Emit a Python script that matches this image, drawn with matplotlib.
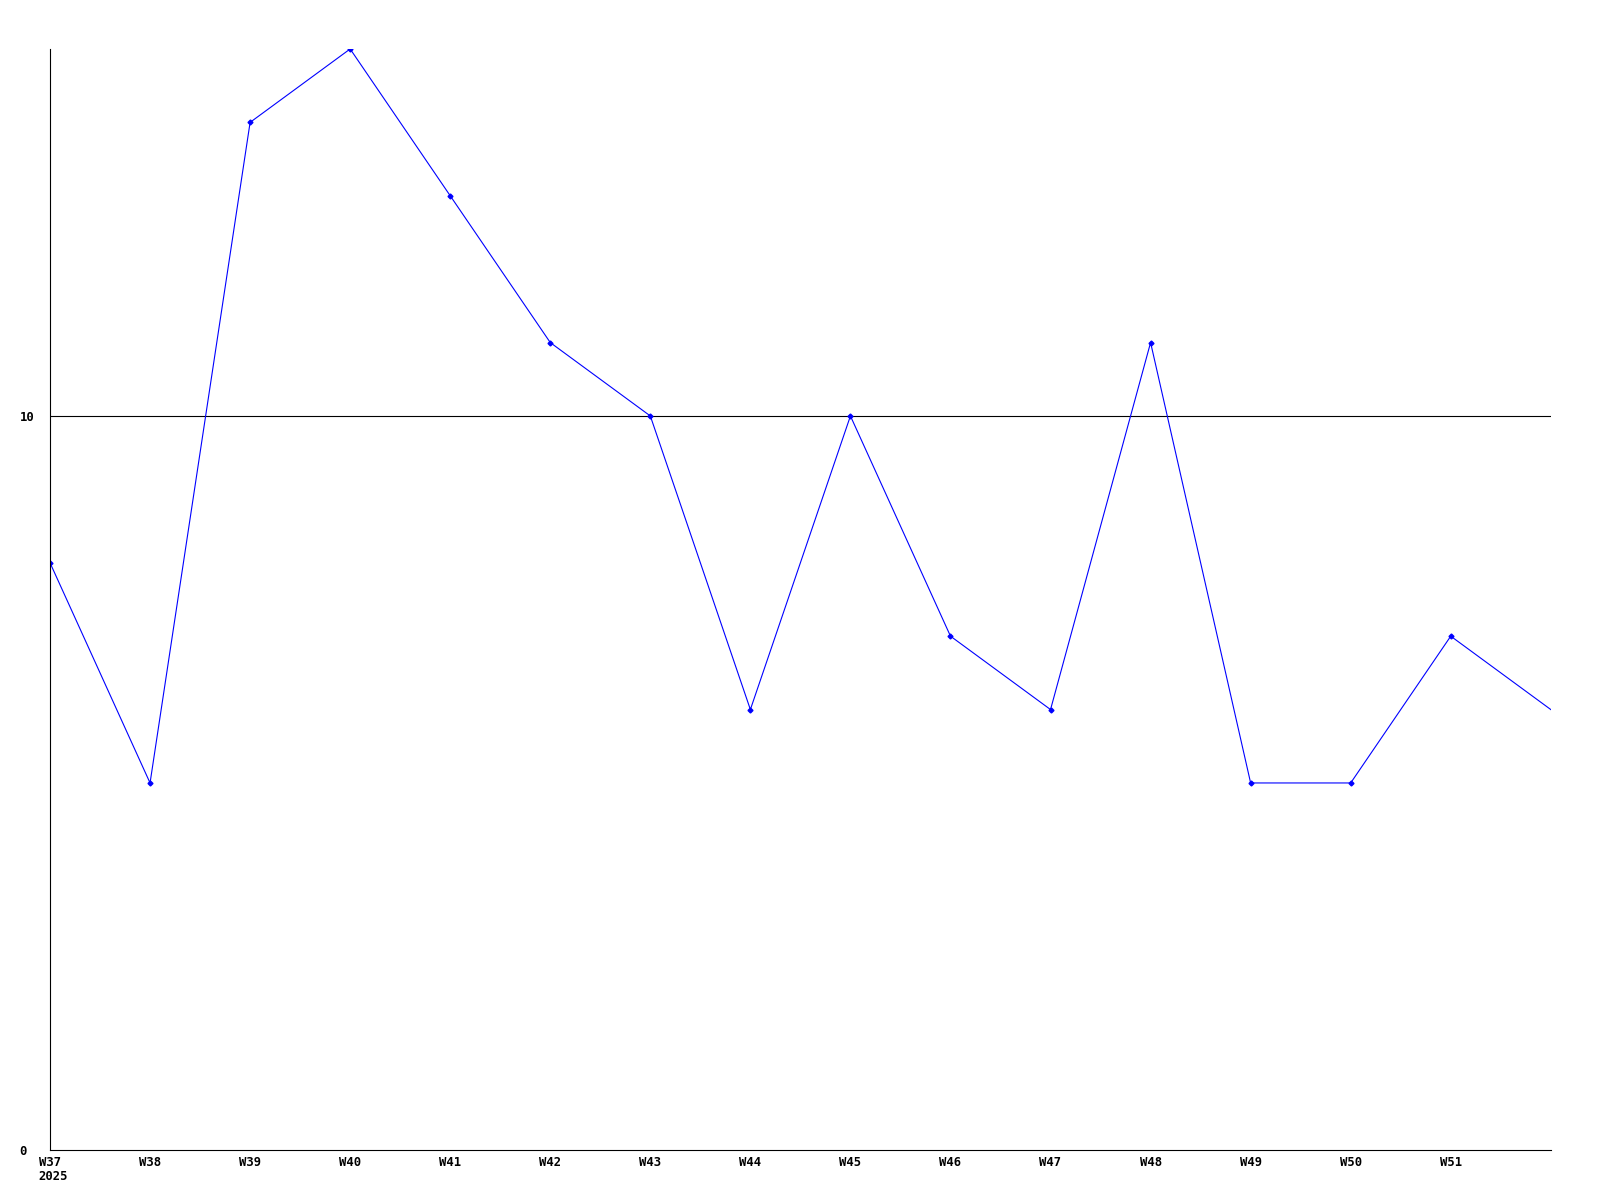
import matplotlib
matplotlib.use('Agg')
import matplotlib.pyplot as plt

# weekly counts, last point (W52) runs to the right edge without a label
weeks = ['W37', 'W38', 'W39', 'W40', 'W41', 'W42', 'W43', 'W44',
         'W45', 'W46', 'W47', 'W48', 'W49', 'W50', 'W51', 'W52']
values = [8, 5, 14, 15, 13, 11, 10, 6, 10, 7, 6, 11, 5, 5, 7, 6]
tick_labels = weeks[:-1]
year_label = '2025'
y_ticks = [0, 10]

fig = plt.figure(figsize=(16, 12), dpi=100)
ax = fig.add_axes([0.03125, 0.0417, 0.938, 0.9175])

x = list(range(len(values)))
ax.plot(x, values, color='#0000ff', lw=0.8, marker='D', ms=2.5,
        markevery=list(range(len(values) - 1)))

ax.set_xlim(0, len(values) - 1)
ax.set_ylim(0, 15)

ax.set_xticks(x[:-1])
ax.set_xticklabels(tick_labels)
ax.set_yticks(y_ticks)
ax.set_yticklabels([str(v) for v in y_ticks])
ax.axhline(10, color='black', lw=0.8, zorder=0)

fs = 8.8
for lab in ax.get_xticklabels() + ax.get_yticklabels():
    lab.set_family('DejaVu Sans Mono')
    lab.set_fontweight('bold')
    lab.set_fontsize(fs)
for lab in ax.get_yticklabels():
    lab.set_horizontalalignment('left')
ax.tick_params(axis='both', length=0)
ax.tick_params(axis='x', pad=4)
ax.tick_params(axis='y', pad=22)

ax.annotate(year_label, xy=(0, 0), xycoords=('data', 'axes fraction'),
            xytext=(-12, -20), textcoords='offset pixels', ha='left', va='top',
            family='DejaVu Sans Mono', fontweight='bold', fontsize=fs)

for s in ['top', 'right']:
    ax.spines[s].set_visible(False)
for s in ['left', 'bottom']:
    ax.spines[s].set_linewidth(0.8)
    ax.spines[s].set_color('black')

fig.savefig('out.png', dpi=100)
